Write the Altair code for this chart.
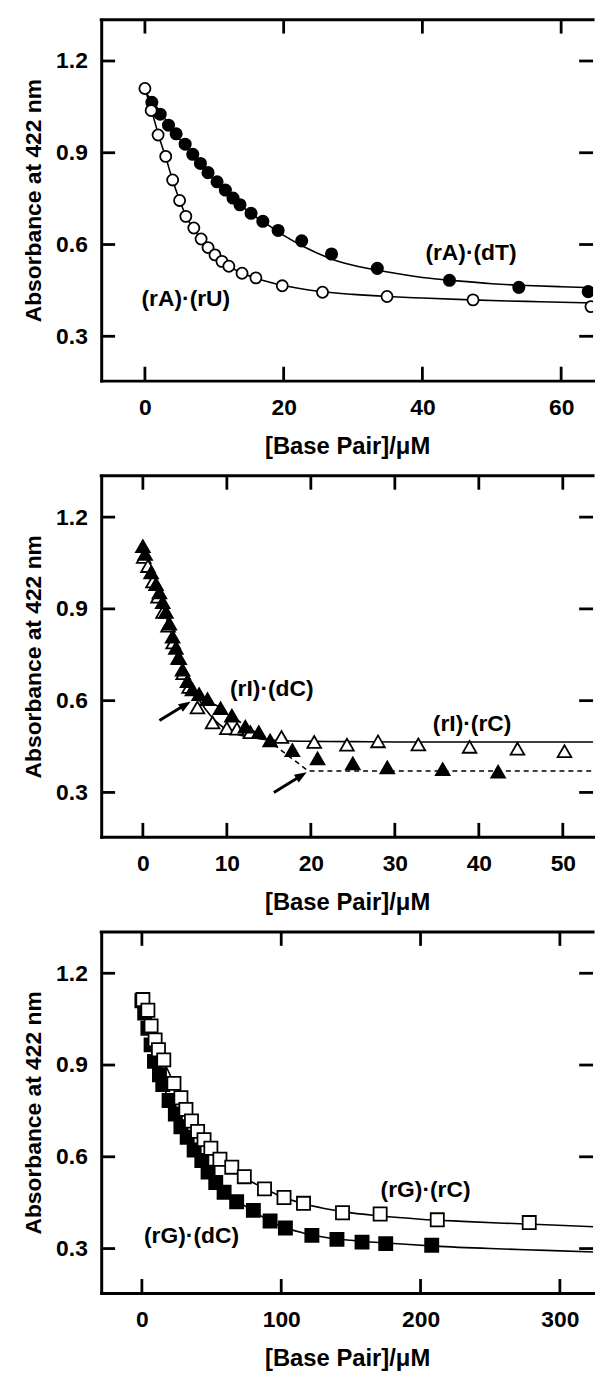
import altair as alt
import pandas as pd

FONT = "Liberation Sans"
W, H = 496, 364

# ---------------- Panel 1: (rA)(dT) filled circles, (rA)(rU) open circles
p1_dT_x = [1.0, 2.2, 3.4, 4.5, 5.8, 6.9, 8.0, 9.1, 10.4, 11.6, 12.7, 13.7, 15.3, 17.0, 19.2, 22.6, 26.9, 33.5, 43.9, 53.9, 63.9]
p1_dT_y = [1.065, 1.026, 0.99, 0.962, 0.928, 0.895, 0.865, 0.835, 0.805, 0.778, 0.752, 0.73, 0.702, 0.676, 0.646, 0.612, 0.569, 0.522, 0.483, 0.46, 0.446]
p1_rU_x = [0.0, 0.9, 1.9, 3.0, 4.0, 5.0, 5.9, 7.05, 8.1, 9.1, 10.1, 11.1, 12.1, 14.0, 16.0, 19.8, 25.6, 34.9, 47.3, 64.3]
p1_rU_y = [1.11, 1.038, 0.958, 0.888, 0.811, 0.744, 0.692, 0.654, 0.618, 0.59, 0.566, 0.545, 0.529, 0.506, 0.491, 0.465, 0.444, 0.43, 0.419, 0.397]
p1_fit_dT_x = [0, 2, 4, 6, 8, 10, 12, 14, 16, 18, 20, 23, 27, 30, 35, 40, 45, 50, 55, 60, 66]
p1_fit_dT_y = [1.1, 1.04, 0.975, 0.915, 0.86, 0.81, 0.765, 0.725, 0.69, 0.66, 0.63, 0.592, 0.552, 0.532, 0.51, 0.492, 0.481, 0.472, 0.466, 0.462, 0.458]
p1_fit_rU_x = [0, 1, 2, 3, 4, 5, 6, 7, 8, 9, 10, 11, 12, 14, 16, 20, 25, 30, 35, 40, 47, 55, 60, 66]
p1_fit_rU_y = [1.11, 1.035, 0.955, 0.885, 0.81, 0.745, 0.69, 0.652, 0.62, 0.592, 0.567, 0.547, 0.53, 0.507, 0.49, 0.466, 0.447, 0.437, 0.43, 0.425, 0.419, 0.414, 0.411, 0.408]
p1_lab_text = ["(rA)·(dT)", "(rA)·(rU)"]
p1_lab_x = [47.0, 5.9]
p1_lab_y = [0.572, 0.422]
p1_xdom = [-6.3, 64.6]
p1_xticks = [0, 20, 40, 60]

# ---------------- Panel 2: (rI)(dC) filled triangles, (rI)(rC) open triangles
p2_dC_x = [0, 0.27, 0.98, 1.57, 1.97, 2.36, 2.75, 3.15, 3.54, 3.93, 4.33, 4.72, 5.31, 5.9, 6.7, 7.7, 9.25, 10.6, 12.2, 13.8, 15.15, 17.8, 20.8, 25.0, 29.1, 35.7, 42.3]
p2_dC_y = [1.105, 1.08, 1.019, 0.981, 0.954, 0.922, 0.89, 0.852, 0.809, 0.772, 0.739, 0.701, 0.664, 0.637, 0.621, 0.605, 0.575, 0.551, 0.515, 0.497, 0.47, 0.438, 0.411, 0.395, 0.382, 0.376, 0.368]
p2_rC_x = [0.1, 0.6, 1.2, 1.8, 2.4, 3.0, 3.6, 4.2, 4.8, 5.5, 6.5, 8.3, 10.0, 11.2, 12.8, 16.5, 20.4, 24.3, 28.0, 32.8, 38.9, 44.6, 50.2]
p2_rC_y = [1.07, 1.04, 0.99, 0.94, 0.89, 0.845, 0.79, 0.74, 0.69, 0.645, 0.578, 0.529, 0.51, 0.508, 0.497, 0.481, 0.465, 0.456, 0.467, 0.457, 0.449, 0.443, 0.435]
p2_fit_rC_x = [0, 1, 2, 3, 4, 5, 6, 7, 8, 9, 10, 11, 12, 14, 16, 20, 25, 30, 40, 56]
p2_fit_rC_y = [1.11, 1.025, 0.94, 0.855, 0.77, 0.695, 0.635, 0.59, 0.553, 0.525, 0.505, 0.492, 0.484, 0.475, 0.47, 0.467, 0.466, 0.465, 0.465, 0.465]
p2_fit_dC_x = [5.9, 6.8, 7.7, 9.2, 10.6, 12.2, 13.8, 15.1, 19.7, 56]
p2_fit_dC_y = [0.635, 0.617, 0.603, 0.577, 0.55, 0.518, 0.49, 0.466, 0.37, 0.37]
p2_lab_text = ["(rI)·(dC)", "(rI)·(rC)"]
p2_lab_x = [15.35, 39.2]
p2_lab_y = [0.637, 0.524]
p2_arrow_tail_x = [1.97, 15.6]
p2_arrow_tail_y = [0.535, 0.300]
p2_arrow_shaft_x = [4.6, 18.4]
p2_arrow_shaft_y = [0.579, 0.347]
p2_arrow_head_x = [5.7, 19.5]
p2_arrow_head_y = [0.597, 0.366]
p2_xdom = [-4.96, 53.6]
p2_xticks = [0, 10, 20, 30, 40, 50]

# ---------------- Panel 3: (rG)(dC) filled squares, (rG)(rC) open squares
p3_dC_x = [0, 2, 4.3, 6.6, 9, 12.6, 15, 19.5, 24, 28, 32.5, 37.5, 43, 47.5, 53, 59, 68, 80, 92, 103, 122, 140, 158, 175, 208]
p3_dC_y = [1.11, 1.07, 1.02, 0.966, 0.912, 0.868, 0.836, 0.784, 0.74, 0.698, 0.664, 0.622, 0.588, 0.55, 0.516, 0.484, 0.453, 0.425, 0.39, 0.367, 0.343, 0.33, 0.321, 0.316, 0.311]
p3_rC_x = [0.7, 4.3, 6.6, 9.5, 11.9, 15.7, 23, 28, 31.6, 35.6, 40, 44.6, 49.5, 56, 64.5, 73.5, 88, 102, 116, 144, 171, 212, 278]
p3_rC_y = [1.114, 1.079, 1.028, 0.982, 0.95, 0.917, 0.84, 0.793, 0.755, 0.717, 0.683, 0.656, 0.628, 0.592, 0.566, 0.535, 0.495, 0.467, 0.448, 0.417, 0.413, 0.394, 0.385]
p3_fit_rC_x = [0, 5, 10, 15, 20, 25, 30, 35, 40, 45, 50, 60, 70, 80, 90, 100, 115, 130, 145, 170, 200, 230, 260, 290, 330]
p3_fit_rC_y = [1.11, 1.06, 0.98, 0.92, 0.87, 0.82, 0.775, 0.725, 0.685, 0.652, 0.622, 0.578, 0.545, 0.515, 0.492, 0.47, 0.448, 0.432, 0.42, 0.407, 0.396, 0.389, 0.383, 0.378, 0.37]
p3_fit_dC_x = [0, 5, 10, 15, 20, 25, 30, 35, 40, 45, 50, 60, 70, 80, 90, 100, 115, 130, 150, 175, 210, 250, 290, 330]
p3_fit_dC_y = [1.11, 1.01, 0.91, 0.838, 0.78, 0.733, 0.69, 0.645, 0.605, 0.57, 0.54, 0.49, 0.452, 0.422, 0.395, 0.373, 0.352, 0.338, 0.327, 0.318, 0.308, 0.3, 0.294, 0.288]
p3_lab_text = ["(rG)·(rC)", "(rG)·(dC)"]
p3_lab_x = [203.6, 35.6]
p3_lab_y = [0.491, 0.34]
p3_xdom = [-29.2, 323.8]
p3_xticks = [0, 100, 200, 300]

YDOM = [0.155, 1.335]
YTICKS = [0.3, 0.6, 0.9, 1.2]

# inward tick glyphs: a 2-unit line from the anchor point; size 196 -> 14 px long
TICK_SIZE = 196
TICK_UP, TICK_DOWN, TICK_RIGHT, TICK_LEFT = "M0,0L0,-2", "M0,0L0,2", "M0,0L2,0", "M0,0L-2,0"


def df(x, y):
    return pd.DataFrame({"x": x, "y": y})


def make_panel(xdom, xticks, lines, dashed, points, labels, arrows=None):
    xs = alt.Scale(domain=xdom, nice=False, zero=False)
    ys = alt.Scale(domain=YDOM, nice=False, zero=False)
    xaxis = alt.Axis(values=xticks, title="[Base Pair]/μM", ticks=False, tickSize=0, grid=False,
                     domain=True, domainWidth=3, domainColor="black", domainCap="square",
                     labelFont=FONT, labelFontSize=23, labelFontWeight="bold", labelColor="black",
                     labelPadding=16, labelFlush=False, labelOverlap=False, format="d",
                     titleFont=FONT, titleFontSize=24, titleFontWeight="bold", titleColor="black",
                     titlePadding=15)
    yaxis = alt.Axis(values=YTICKS, title="Absorbance at 422 nm", ticks=False, tickSize=0, grid=False,
                     domain=True, domainWidth=3, domainColor="black", domainCap="square",
                     labelFont=FONT, labelFontSize=23, labelFontWeight="bold", labelColor="black",
                     labelPadding=14, labelFlush=False, labelOverlap=False, format=".1f",
                     titleFont=FONT, titleFontSize=23, titleFontWeight="bold", titleColor="black",
                     titlePadding=10)
    X = lambda f="x": alt.X(f"{f}:Q", scale=xs, axis=xaxis)
    Y = lambda f="y": alt.Y(f"{f}:Q", scale=ys, axis=yaxis)

    layers = []
    for (lx, ly) in lines:
        layers.append(alt.Chart(df(lx, ly)).mark_line(color="black", strokeWidth=1.6, interpolate="monotone", clip=True)
                      .encode(x=X(), y=Y()))
    for (lx, ly) in dashed:
        layers.append(alt.Chart(df(lx, ly)).mark_line(color="black", strokeWidth=1.5, strokeDash=[5, 4], clip=True)
                      .encode(x=X(), y=Y()))
    for (px, py, shape, filled, size) in points:
        layers.append(alt.Chart(df(px, py)).mark_point(shape=shape, filled=True, size=size,
                                                       fill="black" if filled else "white",
                                                       stroke="black", strokeWidth=1.8, opacity=1, clip=True)
                      .encode(x=X(), y=Y()))
    if arrows:
        tx, ty, sx, sy, hx, hy = arrows
        adf = pd.DataFrame({"x": tx, "y": ty, "x2": sx, "y2": sy})
        layers.append(alt.Chart(adf).mark_rule(color="black", strokeWidth=3)
                      .encode(x=X(), y=Y(), x2="x2:Q", y2="y2:Q"))
        layers.append(alt.Chart(df(hx, hy)).mark_point(shape="M0,0L0.75,2L-0.75,2Z", filled=True, size=150,
                                                       color="black", opacity=1, angle=58)
                      .encode(x=X(), y=Y()))
    ltext, lxs, lys = labels
    ldf = pd.DataFrame({"x": lxs, "y": lys, "t": ltext})
    layers.append(alt.Chart(ldf).mark_text(font=FONT, fontSize=23, fontWeight="bold", color="black",
                                           align="center", baseline="middle")
                  .encode(x=X(), y=Y(), text="t:N"))

    # inward ticks on all four sides, drawn as line-shaped symbols anchored on the frame
    n, m = len(xticks), len(YTICKS)
    xfl = [float(v) for v in xticks]
    tick_sets = [
        (df(xfl, [YDOM[0]] * n), TICK_UP),       # bottom
        (df(xfl, [YDOM[1]] * n), TICK_DOWN),     # top
        (df([xdom[0]] * m, YTICKS), TICK_RIGHT),  # left
        (df([xdom[1]] * m, YTICKS), TICK_LEFT),   # right
    ]
    for (tdf, shp) in tick_sets:
        layers.append(alt.Chart(tdf).mark_point(shape=shp, filled=False, size=TICK_SIZE, stroke="black",
                                                strokeWidth=2.8, opacity=1, strokeCap="butt")
                      .encode(x=X(), y=Y()))
    # top border
    layers.append(alt.Chart(pd.DataFrame({"x": [xdom[0]], "x2": [xdom[1]], "y": [YDOM[1]]}))
                  .mark_rule(color="black", strokeWidth=3, strokeCap="square")
                  .encode(x=X(), x2="x2:Q", y=Y()))
    return alt.layer(*layers).properties(width=W, height=H)


p1 = make_panel(p1_xdom, p1_xticks,
                lines=[(p1_fit_dT_x, p1_fit_dT_y), (p1_fit_rU_x, p1_fit_rU_y)],
                dashed=[],
                points=[(p1_dT_x, p1_dT_y, "circle", True, 130), (p1_rU_x, p1_rU_y, "circle", False, 125)],
                labels=(p1_lab_text, p1_lab_x, p1_lab_y))
p2 = make_panel(p2_xdom, p2_xticks,
                lines=[(p2_fit_rC_x, p2_fit_rC_y)],
                dashed=[(p2_fit_dC_x, p2_fit_dC_y)],
                points=[(p2_rC_x, p2_rC_y, "triangle-up", False, 190), (p2_dC_x, p2_dC_y, "triangle-up", True, 190)],
                labels=(p2_lab_text, p2_lab_x, p2_lab_y),
                arrows=(p2_arrow_tail_x, p2_arrow_tail_y, p2_arrow_shaft_x, p2_arrow_shaft_y,
                        p2_arrow_head_x, p2_arrow_head_y))
p3 = make_panel(p3_xdom, p3_xticks,
                lines=[(p3_fit_rC_x, p3_fit_rC_y), (p3_fit_dC_x, p3_fit_dC_y)],
                dashed=[],
                points=[(p3_dC_x, p3_dC_y, "square", True, 175), (p3_rC_x, p3_rC_y, "square", False, 175)],
                labels=(p3_lab_text, p3_lab_x, p3_lab_y))

chart = (alt.vconcat(p1, p2, p3, spacing=12)
         .properties(padding={"left": 15, "top": 0, "right": 0, "bottom": 0}, background="white")
         .configure_view(stroke=None))

chart.save("out.html", embed_options={"renderer": "svg", "actions": False})
